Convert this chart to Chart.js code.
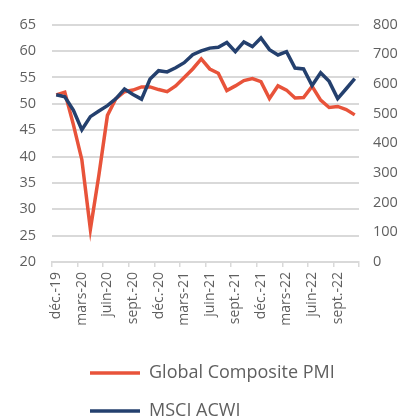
<!DOCTYPE html>
<html>
<head>
<meta charset="utf-8">
<script src="https://cdn.jsdelivr.net/npm/chart.js@4"></script>
<style>
  html, body { margin: 0; padding: 0; background: #fff; overflow: hidden; }
  #wrap { width: 402px; height: 430px; position: relative; }
</style>
</head>
<body>
<div id="wrap"><canvas id="chart"></canvas></div>
<script>
// mois de déc. 2019 à nov. 2022
var mois = ['déc.-19', 'janv.-20', 'févr.-20', 'mars-20', 'avr.-20', 'mai-20', 'juin-20', 'juil.-20', 'août-20',
  'sept.-20', 'oct.-20', 'nov.-20', 'déc.-20', 'janv.-21', 'févr.-21', 'mars-21', 'avr.-21', 'mai-21',
  'juin-21', 'juil.-21', 'août-21', 'sept.-21', 'oct.-21', 'nov.-21', 'déc.-21', 'janv.-22', 'févr.-22',
  'mars-22', 'avr.-22', 'mai-22', 'juin-22', 'juil.-22', 'août-22', 'sept.-22', 'oct.-22', 'nov.-22'];

var pmi = [51.7, 52.2, 46.1, 39.4, 26.2, 36.5, 47.8, 51.0, 52.3, 52.6, 53.2, 53.2, 52.7, 52.3, 53.4, 55.0,
  56.6, 58.5, 56.6, 55.8, 52.5, 53.4, 54.4, 54.8, 54.2, 51.0, 53.4, 52.6, 51.1, 51.2, 53.3, 50.7, 49.3,
  49.5, 48.9, 47.9];

var msci = [564, 557, 512, 446, 490, 509, 527, 551, 583, 565, 549, 617, 645, 641, 655, 672, 699, 712, 721,
  724, 740, 709, 742, 726, 755, 716, 698, 709, 654, 651, 595, 638, 609, 551, 584, 618];

var gris = '#d9d9d9';
var texte = '#5f5f5f';
var police = 'Open Sans';

// petit decalage de la legende vers la droite
var decaleLegende = {
  id: 'decaleLegende',
  afterLayout: function (chart) {
    chart.legend.left = 70;
  }
};

var ctx = document.getElementById('chart').getContext('2d');
var chart = new Chart(ctx, {
  type: 'line',
  data: {
    labels: mois,
    datasets: [
      {
        label: 'Global Composite PMI',
        data: pmi,
        yAxisID: 'y',
        borderColor: '#e8533a',
        backgroundColor: '#e8533a',
        borderWidth: 3.5,
        order: 2
      },
      {
        label: 'MSCI ACWI',
        data: msci,
        yAxisID: 'y1',
        borderColor: '#24406e',
        backgroundColor: '#24406e',
        borderWidth: 3.5,
        order: 1
      }
    ]
  },
  options: {
    responsive: true,
    maintainAspectRatio: false,
    animation: false,
    layout: { padding: { top: 22 } },
    elements: {
      point: { radius: 0 },
      line: { tension: 0 }
    },
    plugins: {
      tooltip: { enabled: false },
      legend: {
        position: 'bottom',
        align: 'start',
        labels: {
          usePointStyle: true,
          pointStyle: 'line',
          pointStyleWidth: 50,
          padding: 20,
          color: texte,
          font: { family: police, size: 18 },
          sort: function (a, b) { return a.datasetIndex - b.datasetIndex; }
        }
      }
    },
    scales: {
      x: {
        offset: true,
        grid: {
          offset: true,
          drawOnChartArea: false,
          tickLength: 5,
          lineWidth: 1.5,
          color: function (c) {
            return (c.index === undefined || c.index % 3 === 0) ? gris : 'transparent';
          }
        },
        border: { color: gris, width: 2 },
        ticks: {
          autoSkip: false,
          maxRotation: 90,
          minRotation: 90,
          padding: 5,
          color: texte,
          font: { family: police, size: 14 },
          callback: function (val, i) {
            return i % 3 === 0 ? this.getLabelForValue(val) : '';
          }
        },
        afterFit: function (axis) { axis.height = 82; }
      },
      y: {
        position: 'left',
        min: 20,
        max: 65,
        grid: { color: gris, lineWidth: 2, drawTicks: false },
        border: { display: false },
        ticks: {
          stepSize: 5,
          padding: 16,
          color: texte,
          font: { family: police, size: 14.5 }
        },
        afterFit: function (axis) { axis.width = 52; }
      },
      y1: {
        position: 'right',
        min: 0,
        max: 800,
        grid: { drawOnChartArea: false, drawTicks: false },
        border: { display: false },
        ticks: {
          stepSize: 100,
          padding: 14,
          color: texte,
          font: { family: police, size: 14.5 }
        },
        afterFit: function (axis) { axis.width = 43; }
      }
    }
  },
  plugins: [decaleLegende]
});
</script>
</body>
</html>
